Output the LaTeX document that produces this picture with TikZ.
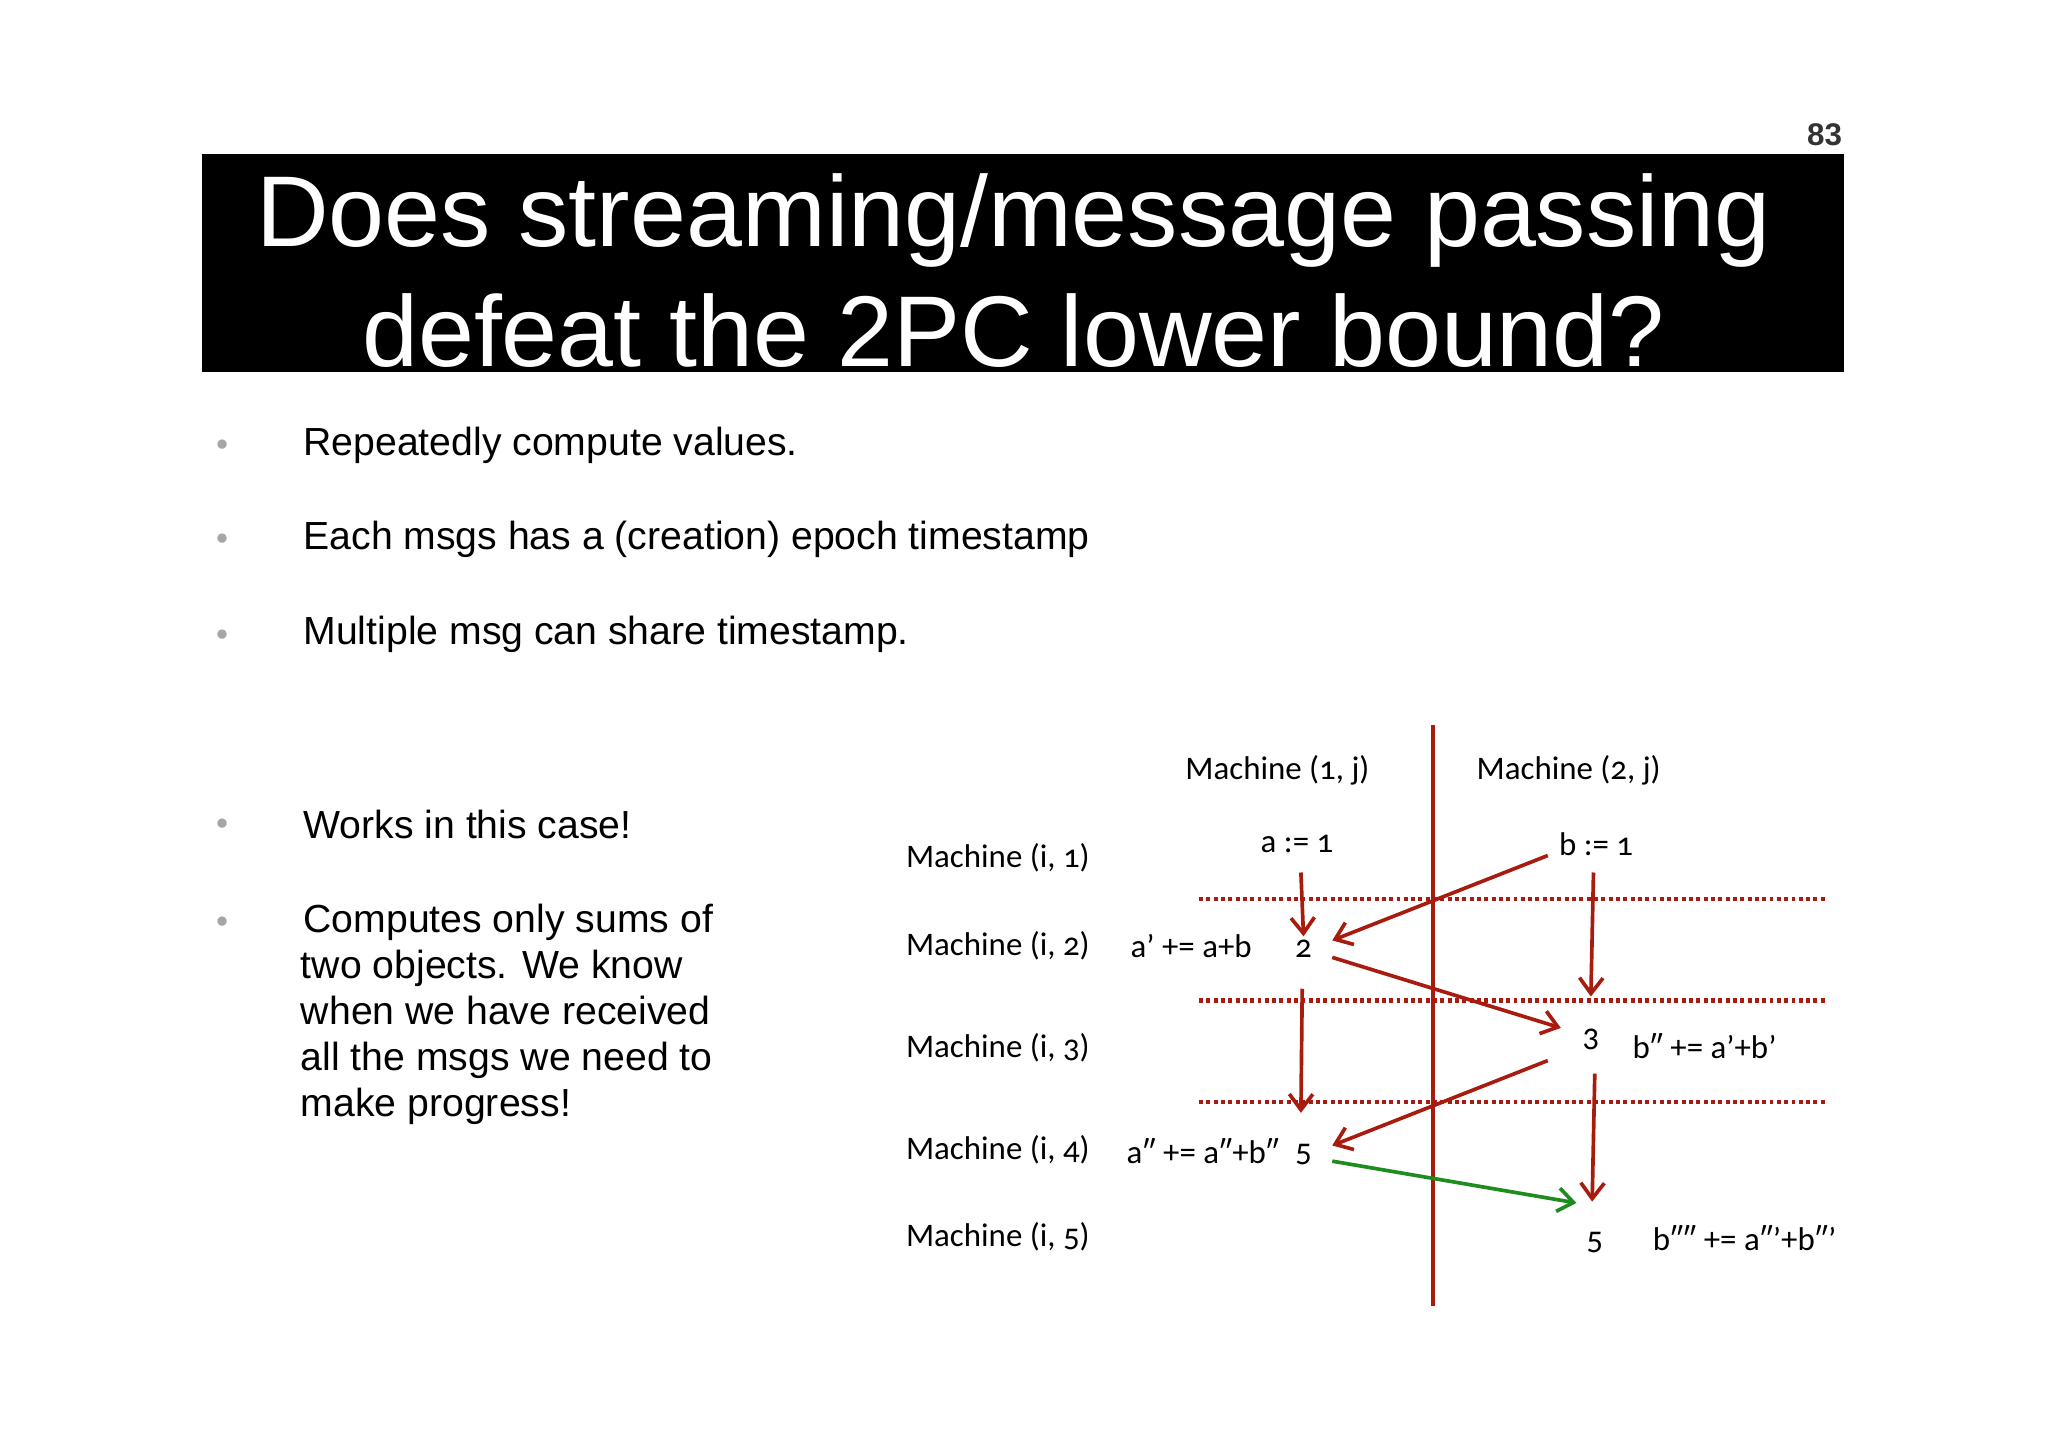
\documentclass[tikz,border=0pt]{standalone}
\usepackage{fontspec}
\setmainfont{Liberation Sans}
\newfontfamily\diag[Numbers=OldStyle]{Carlito}
\usetikzlibrary{arrows.meta}
\definecolor{dred}{HTML}{A81C10}
\definecolor{dgreen}{HTML}{1E8C1E}
\tikzset{
  x=0.5pt,y=-0.5pt,
  bul/.style={text=gray!70,font=\fontsize{9}{9}\selectfont},
  btxt/.style={anchor=west,font=\fontsize{15}{17.6}\selectfont,align=left,inner sep=0},
  dl/.style={font=\diag\fontsize{12.6}{14}\selectfont,inner sep=1pt},
  sep/.style={dred,line width=1.6pt,dotted,dash pattern=on 1.5pt off 1.3pt},
  msg/.style={dred,line width=1.4pt,-{Straight Barb[length=6pt,width=9pt,line width=1.4pt]}},
  gmsg/.style={msg,dgreen}
}
\begin{document}
\begin{tikzpicture}
\useasboundingbox (0,0) rectangle (1568,1108);
\node[font=\bfseries\fontsize{12}{12}\selectfont,text=black!80] (pg) at (1397,103) {83};
\fill[black] (155,118) rectangle (1412,285);
\node[text=white,font=\fontsize{38.5}{46}\selectfont,align=center] (title) at (776,207) {Does streaming/message passing\\defeat the 2PC lower bound?};
\foreach \y/\n in {341/b1,413/b2,486/b3,631/b4,706/b5}{\node[bul] (\n) at (170,\y) {$\bullet$};}
\node[btxt] (t1) at (232,341) {Repeatedly compute values.};
\node[btxt] (t2) at (232,413) {Each msgs has a (creation) epoch timestamp};
\node[btxt] (t3) at (232,486) {Multiple msg can share timestamp.};
\node[btxt] (t4) at (232,631) {Works in this case!};
\node[btxt,anchor=north west] (t5) at (230,692) {\hspace*{1pt}Computes only sums of\\two objects. We know\\when we have received\\all the msgs we need to\\make progress!};
% diagram
\coordinate (vt) at (1097,555); \coordinate (vb) at (1097,1000);
\draw[dred,line width=1.6pt] (vt) -- (vb);
\foreach \y/\n in {688/d1,766/d2,844/d3}{\coordinate (\n l) at (918,\y); \coordinate (\n r) at (1398,\y); \draw[sep] (\n l) -- (\n r);}
\node[dl] (m1j) at (978,590) {Machine (1, j)};
\node[dl] (m2j) at (1201,590) {Machine (2, j)};
\foreach \y/\k in {657/1,724/2,802/3,880/4,947/5}{\node[dl] (mi\k) at (764,\y) {Machine (i, \k)};}
\node[dl] (a1) at (993,646) {a := 1};
\node[dl] (b1) at (1222,646) {b := 1};
\node[dl] (ap) at (912,724) {a’ += a+b};
\node[dl] (n2) at (998,726) {2};
\node[dl] (n3) at (1218,796) {3};
\node[dl] (bp) at (1305,801) {b″ += a’+b’};
\node[dl] (app) at (921,881) {a″ += a″+b″};
\node[dl] (n5a) at (998,884) {5};
\node[dl] (n5b) at (1221,951) {5};
\node[dl,anchor=west] (bpp) at (1263,948) {b″″ += a″’+b″’};
\draw[msg] (996,668) -- (n2.north);
\draw[msg] (1185,655) -- (1020,720);
\draw[msg] (1220,668) -- (1218,763);
\draw[msg] (1020,733) -- (1195,787);
\draw[msg] (997,757) -- (996,852);
\draw[msg] (1185,812) -- (1020,877);
\draw[msg] (1221,822) -- (1219,920);
\draw[gmsg] (1020,889) -- (1207,921);
\end{tikzpicture}
\end{document}
